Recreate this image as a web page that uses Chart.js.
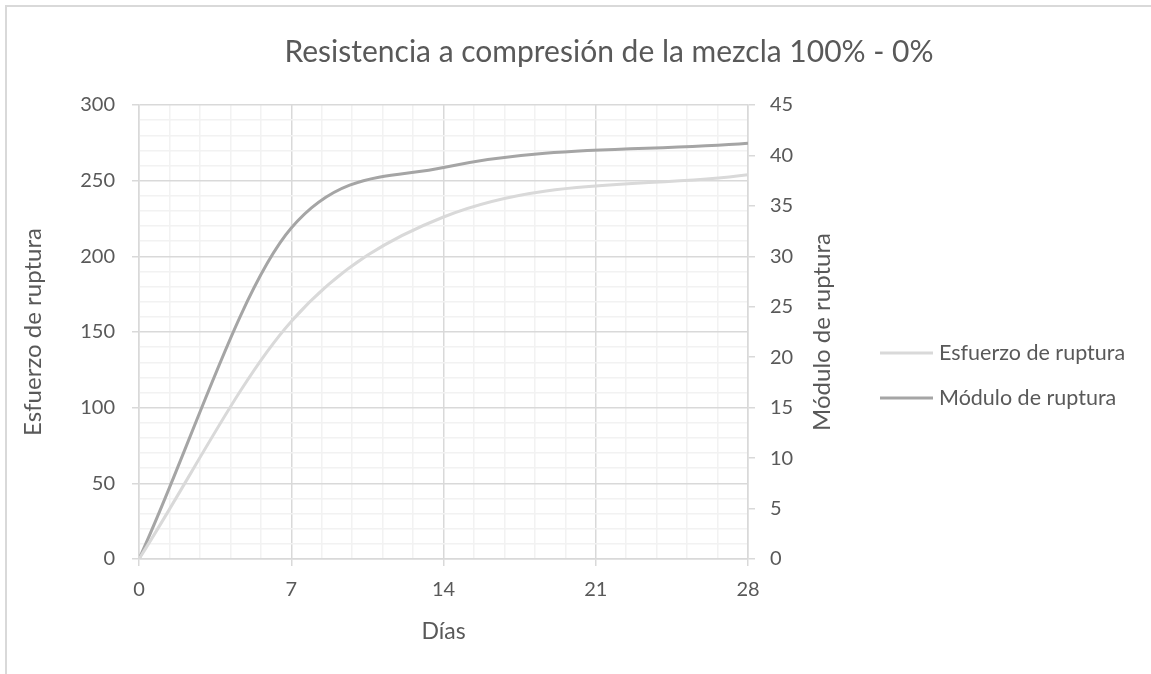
<!DOCTYPE html>
<html>
<head>
<meta charset="utf-8">
<script src="https://cdn.jsdelivr.net/npm/chart.js@4.4.1/dist/chart.umd.min.js"></script>
<style>
  html, body { margin: 0; padding: 0; background: #ffffff; overflow: hidden; }
  canvas { display: block; }
</style>
</head>
<body>
<canvas id="grafico" width="1151" height="674"></canvas>
<script>
// Ensayos de compresión: valores a 0, 7, 14 y 28 días
const dias = [0, 7, 14, 28];
const esfuerzoRuptura = [0, 157, 226, 254];
const moduloRuptura = [0, 32.8, 38.8, 41.2];
const nombresSeries = ['Esfuerzo de ruptura', 'Módulo de ruptura'];

const tituloGrafico = 'Resistencia a compresión de la mezcla 100% - 0%';
const tituloEjeX = 'Días';
const tituloEjeY = 'Esfuerzo de ruptura';
const tituloEjeY2 = 'Módulo de ruptura';

// Marcas principales de cada eje y número de subdivisiones (líneas secundarias)
const marcasX = [0, 7, 14, 21, 28];
const marcasY = [0, 50, 100, 150, 200, 250, 300];
const marcasY2 = [0, 5, 10, 15, 20, 25, 30, 35, 40, 45];
const subdivX = 5;
const subdivY = 5;

const colorTexto = '#595959';
const colorRejilla = '#d9d9d9';
const colorRejillaMenor = '#f2f2f2';
const colorEsfuerzo = '#d9d9d9';
const colorModulo = '#a5a5a5';
const fuente = 'Lato, "Open Sans", sans-serif';

function conSubdivisiones(marcas, n) {
  const out = [];
  for (let i = 0; i < marcas.length; i++) {
    out.push({ value: marcas[i], principal: true });
    if (i < marcas.length - 1) {
      const paso = (marcas[i + 1] - marcas[i]) / n;
      for (let k = 1; k < n; k++) {
        out.push({ value: Math.round((marcas[i] + paso * k) * 1000) / 1000, principal: false });
      }
    }
  }
  return out;
}

const esPrincipal = (ctx) => ctx.tick && ctx.tick.principal;

// Marco exterior, título, título del eje derecho y leyenda
const decoracion = {
  id: 'decoracion',
  beforeDraw(chart) {
    const ctx = chart.ctx;
    ctx.save();
    ctx.strokeStyle = colorRejilla;
    ctx.lineWidth = 2;
    ctx.beginPath();
    ctx.moveTo(6, chart.height + 2);
    ctx.lineTo(6, 6);
    ctx.lineTo(chart.width + 2, 6);
    ctx.stroke();
    ctx.restore();
  },
  afterDraw(chart) {
    const ctx = chart.ctx;
    const area = chart.chartArea;
    ctx.save();
    ctx.fillStyle = colorTexto;
    ctx.textBaseline = 'middle';

    ctx.font = '30px ' + fuente;
    ctx.textAlign = 'center';
    ctx.fillText(tituloGrafico, 609, 52);

    ctx.font = '24px ' + fuente;
    ctx.save();
    ctx.translate(822, (area.top + area.bottom) / 2);
    ctx.rotate(-Math.PI / 2);
    ctx.fillText(tituloEjeY2, 0, 0);
    ctx.restore();

    ctx.font = '21.5px ' + fuente;
    ctx.textAlign = 'left';
    const filas = [353, 398];
    chart.data.datasets.forEach((ds, i) => {
      const y = filas[i];
      ctx.strokeStyle = ds.borderColor;
      ctx.lineWidth = 3;
      ctx.beginPath();
      ctx.moveTo(880, y);
      ctx.lineTo(933, y);
      ctx.stroke();
      ctx.fillText(ds.label, 939, y);
    });
    ctx.restore();
  }
};

new Chart(document.getElementById('grafico'), {
  type: 'line',
  data: {
    datasets: [
      {
        label: nombresSeries[0],
        data: dias.map((d, i) => ({ x: d, y: esfuerzoRuptura[i] })),
        borderColor: colorEsfuerzo,
        borderWidth: 3,
        pointRadius: 0,
        cubicInterpolationMode: 'monotone',
        yAxisID: 'y'
      },
      {
        label: nombresSeries[1],
        data: dias.map((d, i) => ({ x: d, y: moduloRuptura[i] })),
        borderColor: colorModulo,
        borderWidth: 3,
        pointRadius: 0,
        cubicInterpolationMode: 'monotone',
        yAxisID: 'y1'
      }
    ]
  },
  options: {
    responsive: false,
    animation: false,
    events: [],
    layout: { padding: { top: 105, left: 0, right: 0, bottom: 0 } },
    plugins: {
      legend: { display: false },
      title: { display: false },
      tooltip: { enabled: false }
    },
    scales: {
      x: {
        type: 'linear',
        min: 0,
        max: 28,
        afterBuildTicks(s) { s.ticks = conSubdivisiones(marcasX, subdivX); },
        afterFit(s) { s.height = 115; },
        ticks: {
          autoSkip: false,
          maxRotation: 0,
          padding: 12,
          color: colorTexto,
          font: { family: fuente, size: 20 },
          callback(v, i, t) { return t[i].principal ? String(Math.round(v)) : ''; }
        },
        grid: {
          color: (c) => esPrincipal(c) ? colorRejilla : colorRejillaMenor,
          tickColor: (c) => esPrincipal(c) ? colorRejilla : 'rgba(0,0,0,0)',
          tickLength: 7,
          lineWidth: 1.5
        },
        border: { color: colorRejilla, width: 1.5 },
        title: {
          display: true,
          text: tituloEjeX,
          color: colorTexto,
          font: { family: fuente, size: 23 },
          padding: { top: 0, bottom: 29 }
        }
      },
      y: {
        type: 'linear',
        position: 'left',
        min: 0,
        max: 300,
        afterBuildTicks(s) { s.ticks = conSubdivisiones(marcasY, subdivY); },
        afterFit(s) { s.width = 139; },
        ticks: {
          autoSkip: false,
          padding: 17,
          color: colorTexto,
          font: { family: fuente, size: 20 },
          callback(v, i, t) { return t[i].principal ? String(v) : ''; }
        },
        grid: {
          color: (c) => esPrincipal(c) ? colorRejilla : colorRejillaMenor,
          tickColor: (c) => esPrincipal(c) ? colorRejilla : 'rgba(0,0,0,0)',
          tickLength: 7,
          lineWidth: 1.5
        },
        border: { color: colorRejilla, width: 1.5 },
        title: {
          display: true,
          text: tituloEjeY,
          color: colorTexto,
          font: { family: fuente, size: 24 },
          padding: { top: 19, bottom: 0 }
        }
      },
      y1: {
        type: 'linear',
        position: 'right',
        min: 0,
        max: 45,
        afterBuildTicks(s) { s.ticks = marcasY2.map(v => ({ value: v })); },
        afterFit(s) { s.width = 403; },
        ticks: {
          autoSkip: false,
          padding: 15,
          color: colorTexto,
          font: { family: fuente, size: 20 },
          callback(v) { return String(v); }
        },
        grid: {
          drawOnChartArea: false,
          color: colorRejilla,
          tickColor: colorRejilla,
          tickLength: 7,
          lineWidth: 1.5
        },
        border: { color: colorRejilla, width: 1.5 }
      }
    }
  },
  plugins: [decoracion]
});
</script>
</body>
</html>
